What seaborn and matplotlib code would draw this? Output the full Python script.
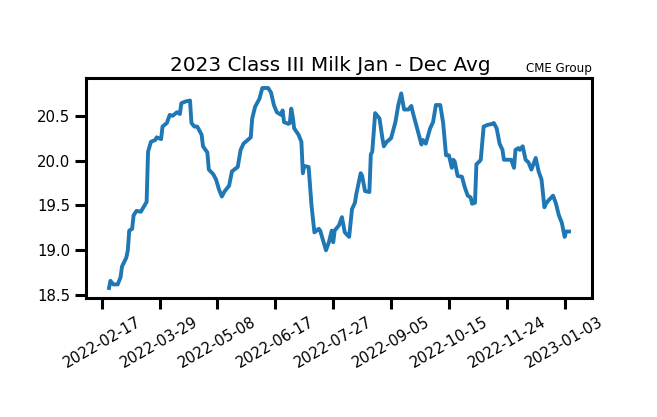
import matplotlib
matplotlib.use("Agg")
import pandas as pd
import matplotlib.pyplot as plt
import matplotlib.dates as mdates
import seaborn as sns

# Chart data
dates = [
    "2022-02-22", "2022-02-23", "2022-02-25", "2022-02-28", "2022-03-02", "2022-03-03",
    "2022-03-06", "2022-03-07", "2022-03-08", "2022-03-10", "2022-03-11", "2022-03-13",
    "2022-03-16", "2022-03-20", "2022-03-21", "2022-03-23", "2022-03-26", "2022-03-27",
    "2022-03-30", "2022-03-31", "2022-04-03", "2022-04-05", "2022-04-07", "2022-04-10",
    "2022-04-12", "2022-04-13", "2022-04-16", "2022-04-19", "2022-04-20", "2022-04-22",
    "2022-04-24", "2022-04-27", "2022-04-28", "2022-05-01", "2022-05-02", "2022-05-05",
    "2022-05-07", "2022-05-09", "2022-05-11", "2022-05-13", "2022-05-16", "2022-05-18",
    "2022-05-22", "2022-05-24", "2022-05-26", "2022-05-31", "2022-06-01", "2022-06-03",
    "2022-06-06", "2022-06-08", "2022-06-12", "2022-06-14", "2022-06-16", "2022-06-18",
    "2022-06-21", "2022-06-22", "2022-06-23", "2022-06-26", "2022-06-27", "2022-06-28",
    "2022-06-29", "2022-06-30", "2022-07-03", "2022-07-05", "2022-07-06", "2022-07-07",
    "2022-07-10", "2022-07-12", "2022-07-14", "2022-07-17", "2022-07-18", "2022-07-22",
    "2022-07-24", "2022-07-26", "2022-07-27", "2022-07-28", "2022-07-31", "2022-08-02",
    "2022-08-04", "2022-08-07", "2022-08-09", "2022-08-11", "2022-08-12", "2022-08-15",
    "2022-08-16", "2022-08-18", "2022-08-21", "2022-08-22", "2022-08-23", "2022-08-25",
    "2022-08-28", "2022-08-30", "2022-08-31", "2022-09-02", "2022-09-05", "2022-09-08",
    "2022-09-10", "2022-09-12", "2022-09-14", "2022-09-17", "2022-09-19", "2022-09-20",
    "2022-09-23", "2022-09-26", "2022-09-27", "2022-09-29", "2022-10-02", "2022-10-04",
    "2022-10-06", "2022-10-09", "2022-10-11", "2022-10-13", "2022-10-15", "2022-10-17",
    "2022-10-18", "2022-10-19", "2022-10-21", "2022-10-24", "2022-10-26", "2022-10-28",
    "2022-10-30", "2022-10-31", "2022-11-02", "2022-11-03", "2022-11-05", "2022-11-06",
    "2022-11-08", "2022-11-11", "2022-11-14", "2022-11-15", "2022-11-17", "2022-11-19",
    "2022-11-21", "2022-11-22", "2022-11-27", "2022-11-29", "2022-11-30", "2022-12-02",
    "2022-12-03", "2022-12-05", "2022-12-07", "2022-12-09", "2022-12-11", "2022-12-14",
    "2022-12-16", "2022-12-18", "2022-12-20", "2022-12-21", "2022-12-23", "2022-12-26",
    "2022-12-28", "2022-12-30", "2023-01-01", "2023-01-03", "2023-01-04", "2023-01-06",
]
prices = [
    18.58, 18.66, 18.62, 18.62, 18.70, 18.82,
    18.92, 19.00, 19.22, 19.24, 19.39, 19.44,
    19.43, 19.54, 20.10, 20.21, 20.23, 20.26,
    20.24, 20.38, 20.42, 20.51, 20.50, 20.54,
    20.52, 20.64, 20.66, 20.67, 20.42, 20.38,
    20.38, 20.29, 20.16, 20.09, 19.90, 19.85,
    19.79, 19.68, 19.60, 19.66, 19.72, 19.88,
    19.93, 20.12, 20.19, 20.26, 20.47, 20.60,
    20.69, 20.81, 20.81, 20.76, 20.62, 20.54,
    20.51, 20.56, 20.43, 20.41, 20.42, 20.58,
    20.49, 20.36, 20.29, 20.21, 19.86, 19.94,
    19.93, 19.50, 19.20, 19.24, 19.22, 19.00,
    19.09, 19.22, 19.09, 19.22, 19.28, 19.37,
    19.20, 19.15, 19.46, 19.53, 19.63, 19.86,
    19.83, 19.66, 19.65, 20.07, 20.10, 20.53,
    20.47, 20.25, 20.16, 20.21, 20.25, 20.43,
    20.62, 20.75, 20.57, 20.57, 20.61, 20.54,
    20.36, 20.18, 20.23, 20.19, 20.36, 20.43,
    20.62, 20.62, 20.42, 20.06, 20.06, 19.92,
    20.01, 19.99, 19.83, 19.82, 19.70, 19.61,
    19.59, 19.52, 19.53, 19.96, 19.99, 20.01,
    20.38, 20.40, 20.41, 20.42, 20.36, 20.19,
    20.12, 20.01, 20.01, 19.92, 20.12, 20.14,
    20.12, 20.16, 20.01, 19.98, 19.90, 20.03,
    19.88, 19.79, 19.48, 19.52, 19.56, 19.61,
    19.52, 19.39, 19.31, 19.15, 19.21, 19.21,
]
xtick_dates = ["2022-02-17", "2022-03-29", "2022-05-08", "2022-06-17", "2022-07-27",
               "2022-09-05", "2022-10-15", "2022-11-24", "2023-01-03"]
yticks = [18.5, 19.0, 19.5, 20.0, 20.5]

df = pd.DataFrame({"date": pd.to_datetime(dates), "price": prices})

fig = plt.figure(figsize=(6.57, 4.17), dpi=100)
ax = fig.add_axes([86 / 657, 1 - 298 / 417, (592 - 86) / 657, (298 - 78) / 417])

sns.lineplot(data=df, x="date", y="price", ax=ax, color="#1f77b4", linewidth=2.8)

ax.set_xticks(pd.to_datetime(xtick_dates))
ax.xaxis.set_major_formatter(mdates.DateFormatter("%Y-%m-%d"))
ax.set_yticks(yticks)
plt.setp(ax.get_xticklabels(), rotation=30, ha="center")
ax.tick_params(length=8, width=2.2, labelsize=10.7, colors="black")
for sp in ax.spines.values():
    sp.set_linewidth(2.2)

ax.set_xlabel("")
ax.set_ylabel("")
# title sits a little left of the axes centre in the original
ax.set_title("2023 Class III Milk Jan - Dec Avg", fontsize=14.4, pad=5, x=0.482)
ax.text(1.0, 1.015, "CME Group", transform=ax.transAxes, ha="right", va="bottom", fontsize=8.6)

fig.savefig("out.png", dpi=100)
